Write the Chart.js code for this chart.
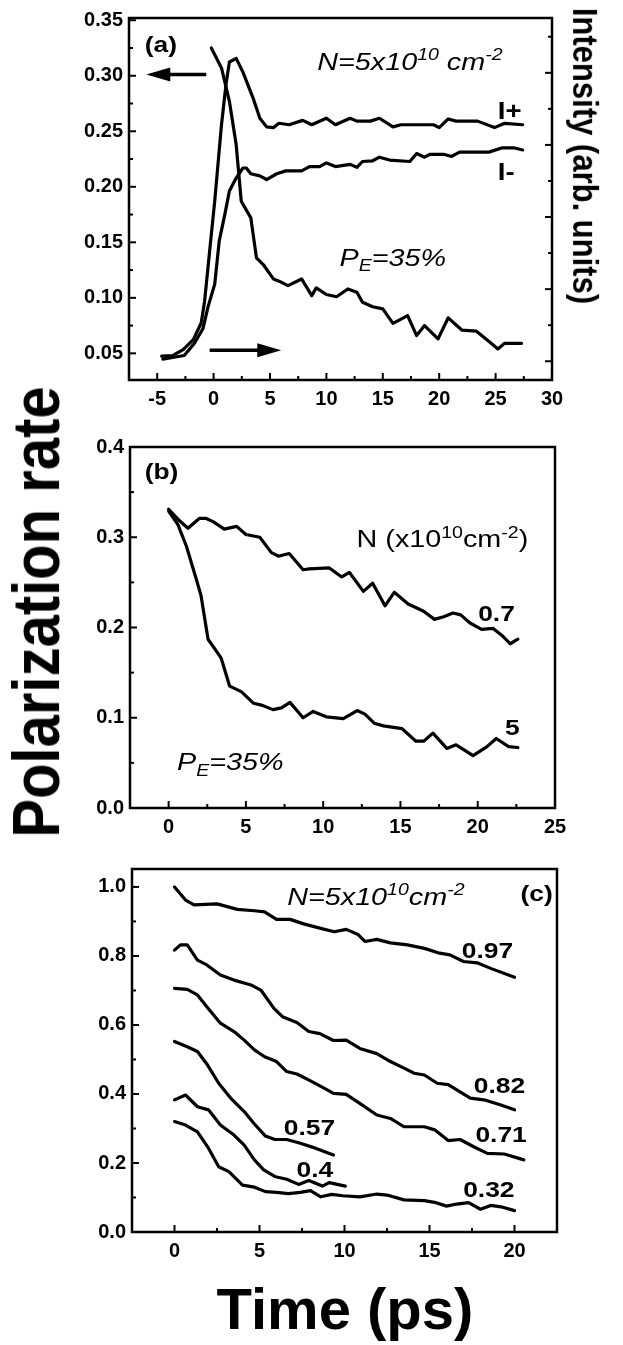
<!DOCTYPE html>
<html>
<head>
<meta charset="utf-8">
<script src="https://cdn.jsdelivr.net/npm/chart.js@4.4.1/dist/chart.umd.min.js"></script>
<style>
  html, body { margin: 0; padding: 0; background: #fff; width: 623px; height: 1345px; overflow: hidden; }
  canvas { position: absolute; left: 0; }
  .axis-title { position: absolute; font-family: "Liberation Sans", Arial, Helvetica, sans-serif; font-weight: bold; color: #000; white-space: nowrap; line-height: 1; }
</style>
</head>
<body>
<canvas id="panelA" width="623" height="425" style="top:0px"></canvas>
<canvas id="panelB" width="623" height="425" style="top:425px"></canvas>
<canvas id="panelC" width="623" height="495" style="top:850px"></canvas>

<div class="axis-title" id="polTitle" style="left:36px; top:612px; font-size:58px; transform: translate(-50%,-50%) rotate(-90deg) scaleY(1.15);">Polarization rate</div>
<div class="axis-title" id="intTitle" style="left:585px; top:156px; font-size:31px; transform: translate(-50%,-50%) rotate(90deg) scaleY(1.15);">Intensity (arb. units)</div>
<div class="axis-title" id="timeTitle" style="left:345px; top:1280px; font-size:58px; transform: translateX(-50%);">Time (ps)</div>

<script>
// ---------- Panel (a): polarization and circular intensities, N = 5e10 cm^-2 ----------
const timeTicksA = [-5, 0, 5, 10, 15, 20, 25, 30];
const timeMinorA = [-2.5, 2.5, 7.5, 12.5, 17.5, 22.5, 27.5];
const polTicksA  = [0.05, 0.10, 0.15, 0.20, 0.25, 0.30, 0.35];
const polMinorA  = [0.075, 0.125, 0.175, 0.225, 0.275, 0.325];
const intTicksA  = [0, 1, 2, 3, 4];
const intMinorA  = [0.5, 1.5, 2.5, 3.5, 4.5];

const polA_t = [-0.2, 0.7, 1.4, 2.0, 2.45, 3.3, 3.8, 4.4, 5.3, 5.8, 6.6, 7.8, 8.7, 9.1, 10.0, 10.9, 11.9, 12.7, 13.2, 14.1, 15.0, 15.9, 17.2, 18.0, 18.7, 19.9, 20.8, 22.0, 23.3, 24.5, 25.2, 25.8, 27.3];
const polA_v = [0.325, 0.307, 0.277, 0.238, 0.187, 0.172, 0.136, 0.130, 0.117, 0.115, 0.111, 0.117, 0.102, 0.109, 0.103, 0.101, 0.108, 0.105, 0.096, 0.092, 0.090, 0.077, 0.084, 0.066, 0.075, 0.063, 0.082, 0.071, 0.070, 0.060, 0.054, 0.059, 0.059];

const iPlus_t = [-4.6, -3.6, -2.7, -1.8, -1.1, -0.8, -0.35, 0.1, 0.7, 1.1, 1.4, 2.0, 2.6, 3.5, 4.1, 4.7, 5.3, 5.8, 6.7, 7.9, 8.7, 10.0, 10.8, 12.1, 12.7, 13.9, 14.7, 15.9, 16.6, 18.6, 19.5, 20.0, 20.8, 21.5, 23.4, 24.9, 25.8, 27.4];
const iPlus_v = [0.07, 0.08, 0.16, 0.30, 0.53, 0.83, 1.53, 2.22, 3.28, 3.84, 4.15, 4.20, 4.01, 3.65, 3.37, 3.25, 3.24, 3.30, 3.28, 3.34, 3.28, 3.37, 3.28, 3.37, 3.33, 3.33, 3.37, 3.25, 3.28, 3.28, 3.28, 3.24, 3.36, 3.33, 3.33, 3.24, 3.30, 3.28];

const iMinus_t = [-4.5, -2.6, -1.7, -0.95, -0.5, 0.1, 0.5, 1.0, 1.4, 2.0, 2.6, 2.9, 3.3, 4.1, 4.7, 5.6, 6.4, 7.8, 8.5, 9.4, 10.0, 10.8, 12.1, 12.7, 13.2, 14.1, 14.7, 15.6, 17.4, 18.0, 18.7, 19.2, 20.4, 21.1, 21.8, 24.4, 25.6, 26.6, 27.4];
const iMinus_v = [0.03, 0.08, 0.25, 0.45, 0.75, 1.07, 1.67, 2.04, 2.36, 2.54, 2.68, 2.68, 2.60, 2.57, 2.52, 2.60, 2.64, 2.64, 2.70, 2.70, 2.75, 2.70, 2.73, 2.69, 2.77, 2.78, 2.83, 2.79, 2.77, 2.88, 2.83, 2.87, 2.87, 2.84, 2.90, 2.90, 2.96, 2.96, 2.93];

// ---------- Panel (b): density dependence, P_E = 35% ----------
const timeTicksB = [0, 5, 10, 15, 20, 25];
const timeMinorB = [2.5, 7.5, 12.5, 17.5, 22.5];
const polTicksB  = [0.0, 0.1, 0.2, 0.3, 0.4];
const polMinorB  = [0.05, 0.15, 0.25, 0.35];

const polB07_t = [0, 0.6, 1.25, 2.0, 2.4, 2.9, 3.6, 4.4, 5.0, 5.9, 6.65, 7.1, 7.8, 8.7, 9.1, 10.4, 11.2, 11.7, 12.6, 13.2, 14.0, 14.6, 15.5, 16.5, 17.2, 17.8, 18.4, 18.9, 19.5, 20.25, 21.0, 21.65, 22.1, 22.6];
const polB07_v = [0.331, 0.320, 0.310, 0.321, 0.321, 0.317, 0.309, 0.312, 0.303, 0.300, 0.283, 0.279, 0.282, 0.264, 0.265, 0.266, 0.256, 0.261, 0.240, 0.249, 0.224, 0.239, 0.226, 0.218, 0.209, 0.212, 0.216, 0.214, 0.205, 0.198, 0.199, 0.190, 0.182, 0.187];

const polB5_t = [0, 0.6, 1.15, 1.8, 2.1, 2.55, 3.0, 3.4, 3.95, 4.7, 5.5, 6.0, 6.75, 7.3, 7.85, 8.7, 9.35, 10.2, 11.3, 12.2, 12.7, 13.3, 13.9, 15.1, 16.0, 16.5, 17.1, 18.0, 18.6, 19.7, 20.6, 21.2, 22.0, 22.6];
const polB5_v = [0.329, 0.314, 0.290, 0.253, 0.235, 0.187, 0.176, 0.166, 0.135, 0.129, 0.116, 0.114, 0.109, 0.111, 0.117, 0.100, 0.107, 0.101, 0.099, 0.108, 0.104, 0.094, 0.091, 0.088, 0.074, 0.074, 0.083, 0.066, 0.070, 0.058, 0.068, 0.077, 0.068, 0.067];

// ---------- Panel (c): excitation polarization dependence, N = 5e10 cm^-2 ----------
const timeTicksC = [0, 5, 10, 15, 20];
const timeMinorC = [2.5, 7.5, 12.5, 17.5];
const polTicksC  = [0.0, 0.2, 0.4, 0.6, 0.8, 1.0];
const polMinorC  = [0.1, 0.3, 0.5, 0.7, 0.9];

const pol097_t = [0, 0.65, 1.15, 2.5, 3.7, 4.7, 5.3, 6.0, 6.8, 7.6, 8.6, 9.4, 10.1, 10.8, 11.2, 11.9, 12.7, 13.7, 14.7, 15.6, 16.2, 17.0, 17.8, 18.6, 20.0];
const pol097_v = [1.0, 0.962, 0.948, 0.951, 0.935, 0.931, 0.928, 0.906, 0.906, 0.893, 0.880, 0.870, 0.877, 0.862, 0.842, 0.848, 0.838, 0.832, 0.822, 0.808, 0.803, 0.784, 0.780, 0.764, 0.738];

const pol082_t = [0, 0.35, 0.75, 1.35, 1.9, 2.7, 3.5, 4.5, 5.1, 5.85, 6.35, 7.2, 7.9, 8.55, 9.35, 10.1, 10.9, 11.9, 12.7, 13.5, 14.1, 14.7, 15.45, 16.1, 17.4, 18.2, 19.2, 20.0];
const pol082_v = [0.817, 0.832, 0.832, 0.788, 0.774, 0.745, 0.730, 0.716, 0.700, 0.648, 0.624, 0.607, 0.581, 0.575, 0.555, 0.556, 0.532, 0.517, 0.494, 0.475, 0.460, 0.455, 0.431, 0.427, 0.388, 0.383, 0.368, 0.354];

const pol071_t = [0, 0.75, 1.35, 1.9, 2.7, 3.5, 4.1, 4.7, 5.3, 6.0, 6.6, 7.2, 8.0, 8.8, 9.35, 10.1, 10.9, 11.9, 12.7, 13.5, 14.7, 15.3, 16.1, 16.8, 17.6, 18.4, 19.4, 20.55];
const pol071_v = [0.706, 0.703, 0.687, 0.653, 0.605, 0.581, 0.556, 0.528, 0.508, 0.494, 0.465, 0.458, 0.438, 0.417, 0.402, 0.399, 0.373, 0.339, 0.329, 0.305, 0.305, 0.296, 0.265, 0.268, 0.247, 0.228, 0.226, 0.209];

const pol057_t = [0, 0.75, 1.35, 1.9, 2.6, 3.3, 4.1, 4.7, 5.35, 5.9, 6.6, 7.4, 8.1, 8.8, 9.35];
const pol057_v = [0.552, 0.537, 0.523, 0.487, 0.431, 0.388, 0.349, 0.313, 0.278, 0.268, 0.268, 0.257, 0.246, 0.233, 0.223];

const pol04_t = [0, 0.65, 1.35, 2.0, 2.7, 3.5, 4.1, 4.7, 5.25, 5.95, 6.6, 7.3, 7.9, 8.7, 9.1, 10.05];
const pol04_v = [0.383, 0.397, 0.363, 0.354, 0.310, 0.281, 0.252, 0.209, 0.180, 0.160, 0.153, 0.138, 0.149, 0.133, 0.143, 0.133];

const pol032_t = [0, 0.65, 1.35, 2.0, 2.6, 3.2, 4.0, 4.7, 5.35, 6.0, 6.7, 7.4, 8.0, 8.6, 9.25, 9.9, 10.9, 11.9, 12.5, 13.5, 14.7, 15.3, 16.0, 16.6, 17.3, 18.0, 18.6, 19.2, 20.0];
const pol032_v = [0.320, 0.310, 0.290, 0.243, 0.189, 0.175, 0.136, 0.130, 0.117, 0.115, 0.111, 0.115, 0.120, 0.102, 0.109, 0.105, 0.102, 0.110, 0.107, 0.093, 0.091, 0.086, 0.075, 0.081, 0.085, 0.066, 0.077, 0.073, 0.062];

// ---------- drawing helpers ----------
const FONT = '"Liberation Sans", Arial, Helvetica, sans-serif';
const TICK_FONT = { family: FONT, weight: 'bold', size: 20 };

function series(t, v, axis) {
  return {
    data: t.map((x, i) => ({ x: x, y: v[i] })),
    yAxisID: axis || 'y',
    borderColor: '#000', borderWidth: 3.2, pointRadius: 0, fill: false,
    tension: 0, borderJoinStyle: 'round', borderCapStyle: 'round'
  };
}

// Text with optional superscript / subscript runs, horizontally stretched by sx
function drawRich(ctx, px, py, parts, o) {
  ctx.save();
  ctx.translate(px, py);
  ctx.scale(o.sx || 1, 1);
  ctx.textBaseline = 'alphabetic';
  ctx.textAlign = 'left';
  let x = 0;
  for (const p of parts) {
    const small = p.sup || p.sub;
    const s = small ? o.size * 0.68 : o.size;
    ctx.font = `${o.style || 'normal'} ${o.weight || 'normal'} ${s}px ${FONT}`;
    const dy = p.sup ? -o.size * 0.42 : (p.sub ? o.size * 0.24 : 0);
    ctx.fillText(p.t, x, dy);
    x += ctx.measureText(p.t).width;
  }
  ctx.restore();
}

function arrow(ctx, x0, y0, x1, y1) {
  const dir = Math.sign(x1 - x0), head = 24, half = 7;
  ctx.beginPath();
  ctx.lineWidth = 3.5;
  ctx.moveTo(x0, y0);
  ctx.lineTo(x1 - dir * head * 0.8, y1);
  ctx.stroke();
  ctx.beginPath();
  ctx.moveTo(x1, y1);
  ctx.lineTo(x1 - dir * head, y1 - half);
  ctx.lineTo(x1 - dir * head, y1 + half);
  ctx.closePath();
  ctx.fill();
}

function decor(cfg) {
  return {
    id: 'decor',
    afterDraw(chart) {
      const { ctx, chartArea: a, scales } = chart;
      const sx = scales.x, sy = scales.y;
      ctx.save();
      ctx.strokeStyle = '#000';
      ctx.fillStyle = '#000';
      // frame
      ctx.lineWidth = 2.5;
      ctx.strokeRect(a.left, a.top, a.right - a.left, a.bottom - a.top);
      // inward tick marks
      ctx.lineWidth = 2;
      ctx.lineCap = 'butt';
      const mark = (x0, y0, x1, y1) => { ctx.beginPath(); ctx.moveTo(x0, y0); ctx.lineTo(x1, y1); ctx.stroke(); };
      cfg.x.major.forEach(v => { const p = sx.getPixelForValue(v); mark(p, a.bottom, p, a.bottom - 7); });
      cfg.x.minor.forEach(v => { const p = sx.getPixelForValue(v); mark(p, a.bottom, p, a.bottom - 4); });
      cfg.y.major.forEach(v => { const p = sy.getPixelForValue(v); mark(a.left, p, a.left + 7, p); });
      cfg.y.minor.forEach(v => { const p = sy.getPixelForValue(v); mark(a.left, p, a.left + 4, p); });
      if (cfg.y2) {
        const s2 = scales.y2;
        cfg.y2.major.forEach(v => { const p = s2.getPixelForValue(v); mark(a.right, p, a.right - 7, p); });
        cfg.y2.minor.forEach(v => { const p = s2.getPixelForValue(v); mark(a.right, p, a.right - 4, p); });
      }
      (cfg.arrows || []).forEach(ar => {
        arrow(ctx, sx.getPixelForValue(ar.x0), sy.getPixelForValue(ar.y),
                   sx.getPixelForValue(ar.x1), sy.getPixelForValue(ar.y));
      });
      (cfg.notes || []).forEach(n => {
        drawRich(ctx, sx.getPixelForValue(n.x), sy.getPixelForValue(n.y), n.parts, n.font);
      });
      ctx.restore();
    }
  };
}

function panel(id, cfg) {
  const canvas = document.getElementById(id);
  const H = canvas.height, yW = 60, xH = 40;
  const scales = {
    x: {
      type: 'linear', position: 'bottom', min: cfg.x.min, max: cfg.x.max,
      afterFit: s => { s.height = xH; },
      afterBuildTicks: s => { s.ticks = cfg.x.major.map(v => ({ value: v })); },
      grid: { display: false, drawTicks: false }, border: { display: false },
      ticks: { autoSkip: false, maxRotation: 0, padding: 7, color: '#000', font: TICK_FONT,
               callback: v => cfg.x.fmt(v) }
    },
    y: {
      type: 'linear', position: 'left', min: cfg.y.min, max: cfg.y.max,
      afterFit: s => { s.width = yW; },
      afterBuildTicks: s => { s.ticks = cfg.y.major.map(v => ({ value: v })); },
      grid: { display: false, drawTicks: false }, border: { display: false },
      ticks: { autoSkip: false, padding: 6, color: '#000', font: TICK_FONT,
               callback: v => cfg.y.fmt(v) }
    }
  };
  if (cfg.y2) {
    scales.y2 = { type: 'linear', position: 'right', display: false, min: cfg.y2.min, max: cfg.y2.max };
  }
  return new Chart(canvas, {
    type: 'line',
    data: { datasets: cfg.datasets },
    options: {
      responsive: false, animation: false, devicePixelRatio: 1, events: [],
      layout: { padding: { left: cfg.box.left - yW, right: 623 - cfg.box.right, top: cfg.box.top, bottom: H - cfg.box.bottom - xH } },
      scales: scales,
      plugins: { legend: { display: false }, tooltip: { enabled: false } }
    },
    plugins: [decor(cfg)]
  });
}

const italic = { size: 23, style: 'italic', sx: 1.25 };
const plain  = { size: 23, sx: 1.25 };
const boldLbl = { size: 22, weight: 'bold', sx: 1.2 };
const boldI  = { size: 23, weight: 'bold', sx: 1.2 };
const intFmt = v => String(Math.round(v));

panel('panelA', {
  box: { left: 129, right: 552, top: 16, bottom: 380 },
  x: { min: -7.5, max: 30, major: timeTicksA, minor: timeMinorA, fmt: intFmt },
  y: { min: 0.026, max: 0.352, major: polTicksA, minor: polMinorA, fmt: v => v.toFixed(2) },
  y2: { min: -0.26, max: 4.76, major: intTicksA, minor: intMinorA },
  datasets: [series(polA_t, polA_v), series(iPlus_t, iPlus_v, 'y2'), series(iMinus_t, iMinus_v, 'y2')],
  arrows: [{ x0: -0.65, x1: -5.97, y: 0.3012 }, { x0: -0.35, x1: 6.0, y: 0.0527 }],
  notes: [
    { x: -6.1, y: 0.3215, parts: [{ t: '(a)' }], font: boldLbl },
    { x: 9.19, y: 0.3054, parts: [{ t: 'N=5x10' }, { t: '10', sup: true }, { t: ' cm' }, { t: '-2', sup: true }], font: italic },
    { x: 25.2, y: 0.2606, parts: [{ t: 'I+' }], font: boldI },
    { x: 25.2, y: 0.206, parts: [{ t: 'I-' }], font: boldI },
    { x: 11.17, y: 0.1289, parts: [{ t: 'P' }, { t: 'E', sub: true }, { t: '=35%' }], font: italic }
  ]
});

panel('panelB', {
  box: { left: 130, right: 555, top: 22, bottom: 383 },
  x: { min: -2.5, max: 25, major: timeTicksB, minor: timeMinorB, fmt: intFmt },
  y: { min: 0, max: 0.4, major: polTicksB, minor: polMinorB, fmt: v => v.toFixed(1) },
  datasets: [series(polB07_t, polB07_v), series(polB5_t, polB5_v)],
  notes: [
    { x: -1.55, y: 0.364, parts: [{ t: '(b)' }], font: boldLbl },
    { x: 12.16, y: 0.289, parts: [{ t: 'N (x10' }, { t: '10', sup: true }, { t: 'cm' }, { t: '-2', sup: true }, { t: ')' }], font: plain },
    { x: 20.03, y: 0.207, parts: [{ t: '0.7' }], font: boldLbl },
    { x: 21.76, y: 0.081, parts: [{ t: '5' }], font: boldLbl },
    { x: 0.54, y: 0.042, parts: [{ t: 'P' }, { t: 'E', sub: true }, { t: '=35%' }], font: italic }
  ]
});

panel('panelC', {
  box: { left: 132, right: 557, top: 19, bottom: 382 },
  x: { min: -2.5, max: 22.5, major: timeTicksC, minor: timeMinorC, fmt: intFmt },
  y: { min: 0, max: 1.052, major: polTicksC, minor: polMinorC, fmt: v => v.toFixed(1) },
  datasets: [series(pol097_t, pol097_v), series(pol082_t, pol082_v), series(pol071_t, pol071_v),
             series(pol057_t, pol057_v), series(pol04_t, pol04_v), series(pol032_t, pol032_v)],
  notes: [
    { x: 6.63, y: 0.948, parts: [{ t: 'N=5x10' }, { t: '10', sup: true }, { t: 'cm' }, { t: '-2', sup: true }], font: italic },
    { x: 20.35, y: 0.959, parts: [{ t: '(c)' }], font: boldLbl },
    { x: 16.9, y: 0.794, parts: [{ t: '0.97' }], font: boldLbl },
    { x: 17.6, y: 0.404, parts: [{ t: '0.82' }], font: boldLbl },
    { x: 17.7, y: 0.262, parts: [{ t: '0.71' }], font: boldLbl },
    { x: 6.43, y: 0.281, parts: [{ t: '0.57' }], font: boldLbl },
    { x: 7.18, y: 0.160, parts: [{ t: '0.4' }], font: boldLbl },
    { x: 16.98, y: 0.102, parts: [{ t: '0.32' }], font: boldLbl }
  ]
});
</script>
</body>
</html>
